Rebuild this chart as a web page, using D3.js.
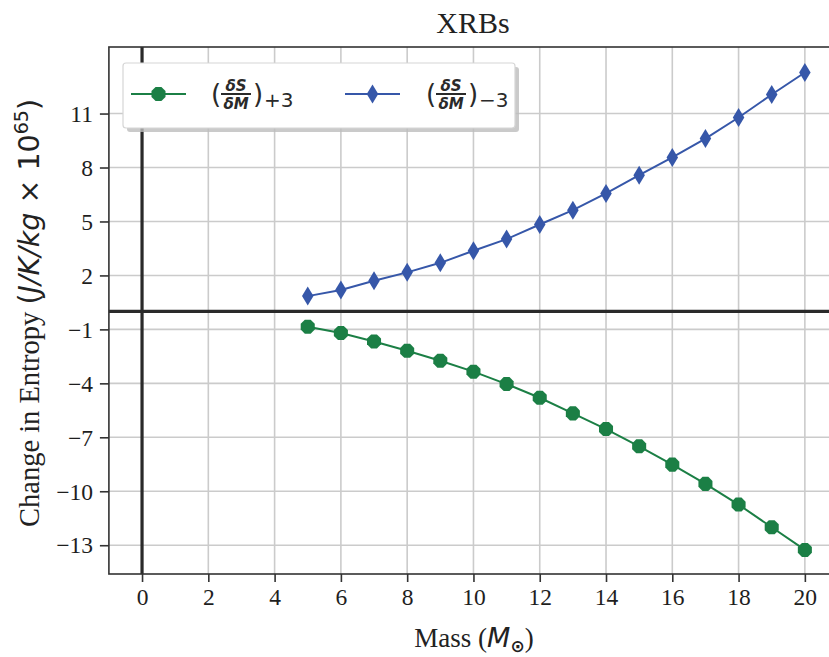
<!DOCTYPE html>
<html><head><meta charset="utf-8">
<script src="https://cdn.jsdelivr.net/npm/d3@7"></script>
<style>
body{margin:0;background:#fff;}
svg{display:block;}
</style></head>
<body>
<svg id="chart" width="829" height="657"></svg>
<script>
// ---- data ----
const masses = [5,6,7,8,9,10,11,12,13,14,15,16,17,18,19,20];
const plusSeries = [-0.85,-1.20,-1.67,-2.19,-2.74,-3.35,-4.04,-4.80,-5.67,-6.54,-7.50,-8.52,-9.59,-10.74,-12.00,-13.26];
const minusSeries = [0.85,1.19,1.70,2.17,2.70,3.37,4.02,4.83,5.63,6.56,7.57,8.56,9.61,10.78,12.06,13.28];
const xTicks = [0,2,4,6,8,10,12,14,16,18,20];
const yTicks = [-13,-10,-7,-4,-1,2,5,8,11];
const titleText = "XRBs";

const svg = d3.select("#chart");
const L = 108.9, R = 838, T = 47, B = 574;
const x = d3.scaleLinear().domain([-1, 21]).range([L, R]);
const y = d3.scaleLinear().domain([-14.6, 14.7]).range([B, T]);

const green = "#1b7f45", blue = "#3657a9";
const serif = "'Liberation Serif', 'Times New Roman', serif";
const sans = "'DejaVu Sans', sans-serif";

// grid
const g = svg.append("g");
g.selectAll(".gx").data(xTicks).join("line")
  .attr("x1", d => x(d)).attr("x2", d => x(d)).attr("y1", T).attr("y2", B)
  .attr("stroke", "#cbcbcb").attr("stroke-width", 1.6);
g.selectAll(".gy").data(yTicks).join("line")
  .attr("x1", L).attr("x2", R).attr("y1", d => y(d)).attr("y2", d => y(d))
  .attr("stroke", "#cbcbcb").attr("stroke-width", 1.6);

// zero lines
svg.append("line").attr("x1", L).attr("x2", R).attr("y1", y(0)).attr("y2", y(0))
  .attr("stroke", "#2a2a2a").attr("stroke-width", 3.2);
svg.append("line").attr("x1", x(0)).attr("x2", x(0)).attr("y1", T).attr("y2", B)
  .attr("stroke", "#2a2a2a").attr("stroke-width", 3.2);

// spines
svg.append("rect").attr("x", L).attr("y", T).attr("width", R - L).attr("height", B - T)
  .attr("fill", "none").attr("stroke", "#333").attr("stroke-width", 1.6);

// axes
const xAxis = d3.axisBottom(x).tickValues(xTicks).tickSize(8).tickPadding(6).tickFormat(d3.format("d"));
const yAxis = d3.axisLeft(y).tickValues(yTicks).tickSize(9).tickPadding(7)
  .tickFormat(d => d < 0 ? "\u2212" + Math.abs(d) : String(d));
const gx = svg.append("g").attr("transform", `translate(0,${B})`).call(xAxis);
const gy = svg.append("g").attr("transform", `translate(${L},0)`).call(yAxis);
[gx, gy].forEach(a => {
  a.select(".domain").remove();
  a.selectAll(".tick line").attr("stroke", "#333").attr("stroke-width", 1.6);
  a.selectAll(".tick text").attr("fill", "#1e1e1e").attr("font-family", serif).attr("font-size", 23.5);
});
gy.selectAll(".tick text").attr("dy", "0.33em");

// lines + markers
const line = d3.line().x((d, i) => x(masses[i])).y(d => y(d));
svg.append("path").datum(plusSeries).attr("d", line).attr("fill", "none").attr("stroke", green).attr("stroke-width", 2);
svg.append("path").datum(minusSeries).attr("d", line).attr("fill", "none").attr("stroke", blue).attr("stroke-width", 2);

function octagon(r) {
  const pts = [];
  for (let k = 0; k < 8; k++) {
    const a = Math.PI / 8 + k * Math.PI / 4;
    pts.push([r * Math.cos(a), r * Math.sin(a)]);
  }
  return "M" + pts.map(p => p.join(",")).join("L") + "Z";
}
function thinDiamond(w, h) {
  return `M0,${-h/2}L${w/2},0L0,${h/2}L${-w/2},0Z`;
}
svg.append("g").selectAll("path").data(plusSeries).join("path")
  .attr("d", octagon(7.6))
  .attr("transform", (d, i) => `translate(${x(masses[i])},${y(d)})`)
  .attr("fill", green);
svg.append("g").selectAll("path").data(minusSeries).join("path")
  .attr("d", thinDiamond(11.5, 19))
  .attr("transform", (d, i) => `translate(${x(masses[i])},${y(d)})`)
  .attr("fill", blue);

// title
svg.append("text").attr("x", 473).attr("y", 33).attr("text-anchor", "middle")
  .attr("font-family", serif).attr("font-size", 30).attr("fill", "#222").text(titleText);

// x label
const xl = svg.append("text").attr("x", 474).attr("y", 647).attr("text-anchor", "middle")
  .attr("font-family", serif).attr("font-size", 27).attr("fill", "#222");
xl.append("tspan").text("Mass (");
xl.append("tspan").attr("font-family", sans).attr("font-style", "italic").text("M");
xl.append("tspan").attr("font-family", sans).attr("font-size", 17).attr("font-weight", "bold").attr("dy", 5).text("\u2299");
xl.append("tspan").attr("dy", -5).text(")");

// y label
const yl = svg.append("text").attr("transform", "translate(39,313) rotate(-90)").attr("text-anchor", "middle")
  .attr("font-family", serif).attr("font-size", 28.5).attr("fill", "#222");
yl.append("tspan").text("Change in Entropy ");
yl.append("tspan").attr("font-family", sans).text("(");
yl.append("tspan").attr("font-family", sans).attr("font-style", "italic").text("J/K/kg");
yl.append("tspan").attr("font-family", sans).text(" \u00d7 10");
yl.append("tspan").attr("font-family", sans).attr("font-size", 19).attr("dy", -11).text("65");
yl.append("tspan").attr("font-family", sans).attr("dy", 11).text(")");

// legend
const leg = svg.append("g");
leg.append("rect").attr("x", 127).attr("y", 67).attr("width", 392).attr("height", 65).attr("rx", 3)
  .attr("fill", "#bdbdbd").attr("opacity", 0.8);
leg.append("rect").attr("x", 123).attr("y", 63).attr("width", 392).attr("height", 65).attr("rx", 3)
  .attr("fill", "#fff").attr("stroke", "#d6d6d6").attr("stroke-width", 1.2);

const legendItems = [
  {name: "+3", color: green, shape: "oct", lx: 131, tx: 211},
  {name: "\u22123", color: blue, shape: "dia", lx: 345, tx: 426}
];
const ly = 94;
legendItems.forEach(it => {
  leg.append("line").attr("x1", it.lx).attr("x2", it.lx + 55).attr("y1", ly).attr("y2", ly)
    .attr("stroke", it.color).attr("stroke-width", 2);
  leg.append("path").attr("d", it.shape === "oct" ? octagon(7.6) : thinDiamond(11.5, 19))
    .attr("transform", `translate(${it.lx + 27.5},${ly})`).attr("fill", it.color);
  const t = leg.append("g").attr("fill", "#2a2a2a").attr("font-family", sans);
  t.append("text").attr("x", it.tx).attr("y", ly + 9).attr("font-size", 26).text("(");
  t.append("text").attr("x", it.tx + 25).attr("y", ly - 3).attr("font-size", 15).attr("font-weight", "bold")
    .attr("text-anchor", "middle").attr("font-style", "italic").text("\u03b4S");
  t.append("line").attr("x1", it.tx + 10).attr("x2", it.tx + 40).attr("y1", ly).attr("y2", ly)
    .attr("stroke", "#2a2a2a").attr("stroke-width", 2);
  t.append("text").attr("x", it.tx + 25).attr("y", ly + 15).attr("font-size", 15).attr("font-weight", "bold")
    .attr("text-anchor", "middle").attr("font-style", "italic").text("\u03b4M");
  t.append("text").attr("x", it.tx + 42).attr("y", ly + 9).attr("font-size", 26).text(")");
  t.append("text").attr("x", it.tx + 53).attr("y", ly + 13).attr("font-size", 20).text(it.name);
});
</script>
</body></html>
